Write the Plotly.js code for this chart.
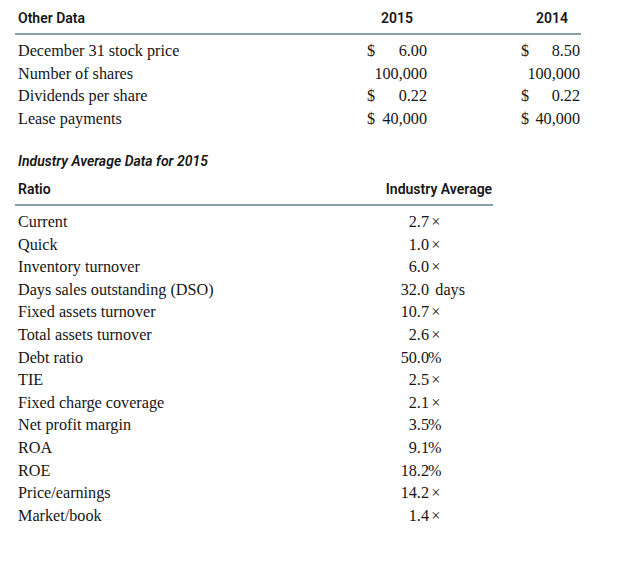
<!DOCTYPE html>
<html>
<head>
<meta charset="utf-8">
<script src="https://cdn.plot.ly/plotly-3.0.1.min.js"></script>
<style>html,body{margin:0;padding:0;background:#fff;}#chart{width:626px;height:562px;}</style>
</head>
<body>
<div id="chart"></div>
<script>
// ---- Data ----
var otherTitle = "Other Data";
var otherYears = ["2015", "2014"];
var otherLabels = ["December 31 stock price", "Number of shares", "Dividends per share", "Lease payments"];
var values2015 = [6.00, 100000, 0.22, 40000];
var values2014 = [8.50, 100000, 0.22, 40000];
var otherIsDollar = [true, false, true, true];
var otherDecimals = [2, 0, 2, 0];

var industryTitle = "Industry Average Data for 2015";
var ratioHeader = "Ratio";
var industryHeader = "Industry Average";
var ratioLabels = ["Current", "Quick", "Inventory turnover", "Days sales outstanding (DSO)",
  "Fixed assets turnover", "Total assets turnover", "Debt ratio", "TIE", "Fixed charge coverage",
  "Net profit margin", "ROA", "ROE", "Price/earnings", "Market/book"];
var industryValues = [2.7, 1.0, 6.0, 32.0, 10.7, 2.6, 50.0, 2.5, 2.1, 3.5, 9.1, 18.2, 14.2, 1.4];
var industryUnits = ["×", "×", "×", "days", "×", "×", "%", "×", "×", "%", "%", "%", "×", "×"];

// ---- Layout helpers ----
var ink = "#161616";
var serif = {family: "Liberation Serif, serif", size: 16.2, color: ink};
var sansB = {family: "Roboto, sans-serif", size: 14, color: ink, weight: 600};
var sansBI = {family: "Roboto, sans-serif", size: 14, color: ink, weight: 600, style: "italic"};

function fmt(v, d) {
  return v.toLocaleString("en-US", {minimumFractionDigits: d, maximumFractionDigits: d});
}
function unitText(u) {
  if (u === "%") return u;
  if (u === "×") return "\u2009" + u;
  return "\u00a0\u2009" + u;
}
function rowsY(start, step, n) { var a = []; for (var i = 0; i < n; i++) a.push(start + i * step); return a; }
function repeat(v, n) { var a = []; for (var i = 0; i < n; i++) a.push(v); return a; }

var traces = [];
function txt(xs, ys, texts, pos, font) {
  traces.push({type: "scatter", mode: "text", x: xs, y: ys, text: texts, textposition: pos,
    textfont: font, hoverinfo: "skip", showlegend: false, cliponaxis: false});
}

// Other data section
var oy = rowsY(52, 22.7, otherLabels.length);
txt([18], [19], [otherTitle], "middle right", sansB);
txt([397, 552], [19, 19], otherYears, "middle center", sansB);
txt(repeat(18, otherLabels.length), oy, otherLabels, "middle right", serif);
var dx = [], dy = [], dt = [];
otherIsDollar.forEach(function (isD, i) {
  if (isD) { dx.push(367, 521); dy.push(oy[i], oy[i]); dt.push("$", "$"); }
});
txt(dx, dy, dt, "middle right", serif);
txt(repeat(427, values2015.length), oy, values2015.map(function (v, i) { return fmt(v, otherDecimals[i]); }), "middle left", serif);
txt(repeat(580, values2014.length), oy, values2014.map(function (v, i) { return fmt(v, otherDecimals[i]); }), "middle left", serif);

// Industry section
var iy = rowsY(223, 22.6, ratioLabels.length);
txt([18], [162], [industryTitle], "middle right", sansBI);
txt([18], [190], [ratioHeader], "middle right", sansB);
txt([439], [190], [industryHeader], "middle center", sansB);
txt(repeat(18, ratioLabels.length), iy, ratioLabels, "middle right", serif);
txt(repeat(429, industryValues.length), iy, industryValues.map(function (v) { return fmt(v, 1); }), "middle left", serif);
txt(repeat(428, industryUnits.length), iy, industryUnits.map(unitText), "middle right", serif);

var layout = {
  width: 626, height: 562,
  margin: {l: 0, r: 0, t: 0, b: 0},
  paper_bgcolor: "#ffffff", plot_bgcolor: "#ffffff",
  xaxis: {range: [0, 626], visible: false, fixedrange: true},
  yaxis: {range: [562, 0], visible: false, fixedrange: true},
  shapes: [
    {type: "line", xref: "x", yref: "y", x0: 15, x1: 581, y0: 34, y1: 34, line: {color: "#5f7f8c", width: 1.4}},
    {type: "line", xref: "x", yref: "y", x0: 15, x1: 493, y0: 205, y1: 205, line: {color: "#5f7f8c", width: 1.4}}
  ],
  showlegend: false
};
Plotly.newPlot("chart", traces, layout, {staticPlot: true, displayModeBar: false});
</script>
</body>
</html>
